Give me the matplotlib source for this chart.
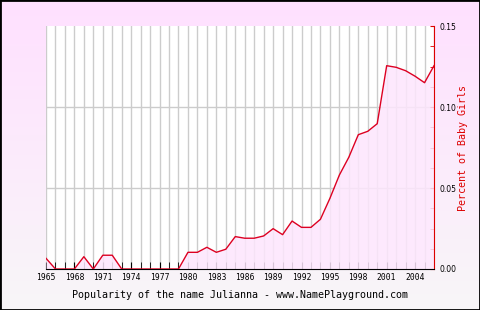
import numpy as np
import matplotlib.pyplot as plt
from matplotlib.patches import Rectangle

# Popularity data
years = list(range(1965, 2007))
percent = [0.0066, 0, 0, 0, 0.0076, 0, 0.0085, 0.0085, 0, 0,
           0, 0, 0, 0, 0, 0.0103, 0.0103, 0.0134, 0.0103, 0.0122,
           0.0200, 0.0190, 0.0190, 0.0204, 0.0249, 0.0212, 0.0296, 0.0257, 0.0257, 0.0307,
           0.0436, 0.0580, 0.0690, 0.0829, 0.0850, 0.0897, 0.1255, 0.1245, 0.1224, 0.1190,
           0.1150, 0.1255]
tick_years = list(range(1965, 2005, 3))
y_ticks = [0.0, 0.05, 0.10, 0.15]
title = "Popularity of the name Julianna - www.NamePlayground.com"
ylabel = "Percent of Baby Girls"

mono = "DejaVu Sans Mono"
fig = plt.figure(figsize=(4.8, 3.1), dpi=100)

# pink-to-grey gradient background
bg = fig.add_axes([0, 0, 1, 1], zorder=-10)
grad = np.linspace(0, 1, 256).reshape(-1, 1)
top = np.array([1.0, 0.878, 1.0])
bottom = np.array([0.973, 0.965, 0.973])
img = top * (1 - grad[..., None]) + bottom * grad[..., None]
bg.imshow(img, aspect="auto", extent=[0, 1, 0, 1])
bg.axis("off")

ax = fig.add_axes([46 / 480, 41 / 310, 388 / 480, 243 / 310])
ax.set_facecolor("white")
ax.set_xlim(1965, 2006)
ax.set_ylim(0, 0.15)

for yr in years:
    ax.axvline(yr, color="#cccccc", lw=1, zorder=1)
for yv in [0.05, 0.10]:
    ax.axhline(yv, color="#cccccc", lw=1, zorder=1)

ax.fill_between(years, percent, 0, color="#fde6fd", alpha=0.85, zorder=2, lw=0)
ax.plot(years, percent, color="#dd0022", lw=1, zorder=3)

for s in ["top", "left"]:
    ax.spines[s].set_visible(False)
ax.spines["right"].set_color("#dd0000")
ax.spines["bottom"].set_color("black")

ax.set_xticks(years, minor=True)
ax.set_xticks(tick_years)
ax.set_xticklabels([str(y) for y in tick_years], fontsize=5.8, family=mono)
ax.tick_params(axis="x", which="both", direction="in", length=5, color="black", pad=3)

ax.yaxis.tick_right()
ax.set_yticks(y_ticks)
ax.set_yticks(np.arange(0, 0.1501, 0.0125), minor=True)
ax.set_yticklabels(["0.00", "0.05", "0.10", "0.15"], fontsize=5.5)
ax.tick_params(axis="y", which="both", direction="in", length=3, color="#dd0000", pad=4)
ax.tick_params(axis="y", which="both", left=False, labelleft=False)

fig.text(463 / 480, 1 - 148 / 310, ylabel, rotation=90, color="#dd0000",
         fontsize=7.2, family=mono, ha="center", va="center")
fig.text(240 / 480, 1 - 295 / 310, title, fontsize=7.2, family=mono,
         ha="center", va="center")

fig.patches.append(Rectangle((0, 0), 1, 1, transform=fig.transFigure,
                             fill=False, edgecolor="black", lw=2))

fig.savefig("out.png", dpi=100)
